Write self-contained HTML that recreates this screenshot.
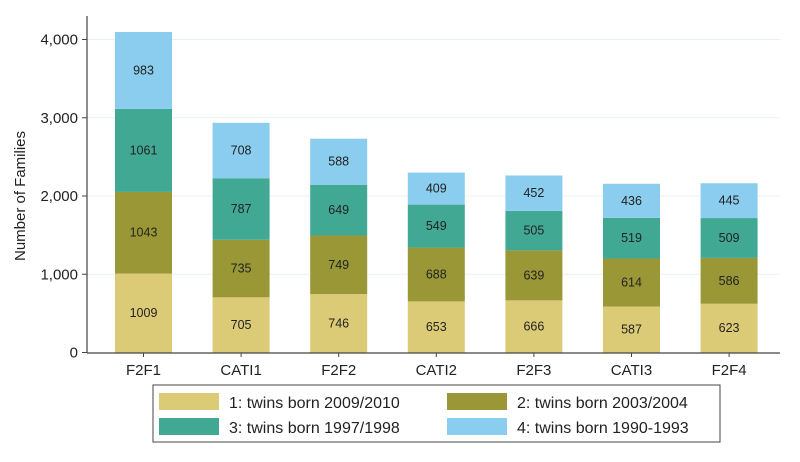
<!DOCTYPE html>
<html><head><meta charset="utf-8"><style>
html,body{margin:0;padding:0;background:#fff;}
svg text{font-family:"Liberation Sans",Arial,sans-serif;fill:#222;}
</style></head><body>
<svg id="chart" width="800" height="457" xmlns="http://www.w3.org/2000/svg">
<g id="grid"></g><g id="bars"></g><g id="axes"></g>
<g id="legend">
<rect x="153" y="385" width="567" height="57" fill="#fff" stroke="#444" stroke-width="1"/>
<rect x="159" y="393" width="60" height="17" fill="#dccb76"/>
<text x="229" y="408" font-size="16">1: twins born 2009/2010</text>
<rect x="447" y="393" width="60" height="17" fill="#9a9836"/>
<text x="517" y="408" font-size="16">2: twins born 2003/2004</text>
<rect x="159" y="418" width="60" height="17" fill="#41a993"/>
<text x="229" y="433" font-size="16">3: twins born 1997/1998</text>
<rect x="447" y="418" width="60" height="17" fill="#8bcdee"/>
<text x="517" y="433" font-size="16">4: twins born 1990-1993</text>
</g>
</svg>
<script>
const categories=["F2F1","CATI1","F2F2","CATI2","F2F3","CATI3","F2F4"];
const s1=[1009,705,746,653,666,587,623];
const s2=[1043,735,749,688,639,614,586];
const s3=[1061,787,649,549,505,519,509];
const s4=[983,708,588,409,452,436,445];
const yTicks=[0,1000,2000,3000,4000];
const yTickLabels=["0","1,000","2,000","3,000","4,000"];
const colors=["#dccb76","#9a9836","#41a993","#8bcdee"];
const NS="http://www.w3.org/2000/svg";
const y0=352.5, yPer=(352.5-39.5)/4000;
function y(v){return y0-v*yPer;}
function x(i){return 143.5+i*97.6;}
const bw=57;
function mk(tag,attrs,parent){const e=document.createElementNS(NS,tag);for(const k in attrs)e.setAttribute(k,attrs[k]);parent.appendChild(e);return e;}
const grid=document.getElementById('grid'),bars=document.getElementById('bars'),axes=document.getElementById('axes');
yTicks.forEach((t,i)=>{
  if(t>0){const g=mk('line',{x1:87,x2:780,y1:y(t),y2:y(t),stroke:'#eaf1f3','stroke-width':1},grid);
  
  }
  const tk=mk('line',{x1:82,x2:87,y1:y(t),y2:y(t),stroke:'#444'},axes);
  
  
  const tl=mk('text',{x:78,y:y(t)+5,'font-size':15,'text-anchor':'end'},axes);
  tl.textContent=yTickLabels[i];
  
  
});
const series=[s1,s2,s3,s4];
categories.forEach((c,i)=>{
  let base=0;
  series.forEach((s,k)=>{
    const v=s[i];
    const r=mk('rect',{x:x(i)-bw/2,y:y(base+v),width:bw,height:v*yPer,fill:colors[k]},bars);
    
    
    const t=mk('text',{x:x(i),y:y(base+v/2)+4,'font-size':12.5,'text-anchor':'middle'},bars);
    t.textContent=v;
    
    
    base+=v;
  });
  const tk=mk('line',{x1:x(i),x2:x(i),y1:352.5,y2:357,stroke:'#444'},axes);
  
  
  const xl=mk('text',{x:x(i),y:375,'font-size':15,'text-anchor':'middle'},axes);
  xl.textContent=c;
  
  
});
const ya=mk('line',{x1:87,x2:87,y1:16,y2:353,stroke:'#444','stroke-width':1.2},axes);


const xa=mk('line',{x1:87,x2:780,y1:353,y2:353,stroke:'#444','stroke-width':1.2},axes);


const yt=mk('text',{x:0,y:0,'font-size':15,'text-anchor':'middle',transform:'translate(25,196) rotate(-90)'},axes);
yt.textContent='Number of Families';


</script>
</body></html>
